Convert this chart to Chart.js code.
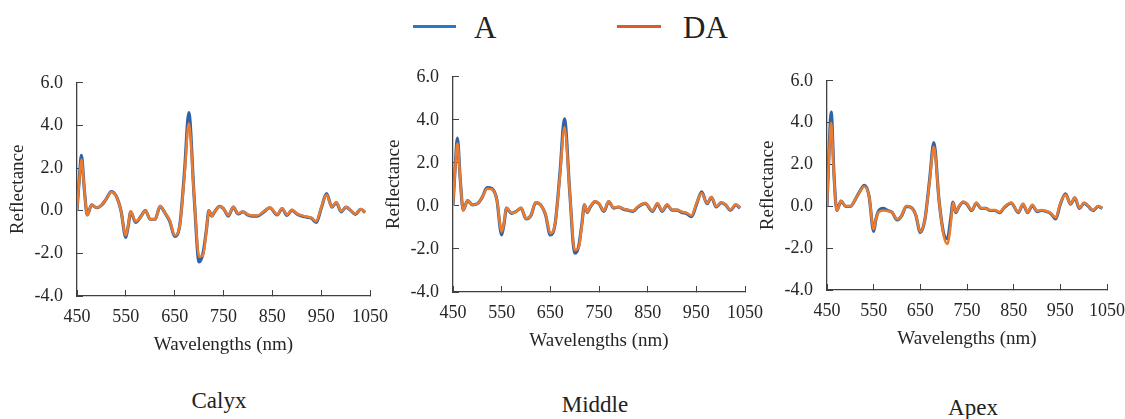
<!DOCTYPE html>
<html>
<head>
<meta charset="utf-8">
<script src="https://cdn.jsdelivr.net/npm/chart.js@4.4.0/dist/chart.umd.min.js"></script>
<style>
  body { margin: 0; width: 1125px; height: 419px; background: #fff; position: relative; overflow: hidden;
         font-family: "Liberation Serif", "Times New Roman", serif; color: #222; }
  canvas { position: absolute; }
  .lgline { position: absolute; height: 3px; }
  .lgtext { position: absolute; font-size: 31px; line-height: 31px; }
  .cap { position: absolute; font-size: 23px; line-height: 23px; transform: translateX(-50%); white-space: nowrap; }
</style>
</head>
<body>

<div class="lgline" style="left:413px; top:25px; width:43px; background:#2878C8;"></div>
<div class="lgtext" style="left:474px; top:12px;">A</div>
<div class="lgline" style="left:617px; top:25px; width:44px; background:#E4572A;"></div>
<div class="lgtext" style="left:683px; top:12px;">DA</div>

<canvas id="calyxChart" width="397" height="309" style="left:7px; top:52px;"></canvas>
<canvas id="middleChart" width="396" height="311" style="left:383px; top:46px;"></canvas>
<canvas id="apexChart" width="384" height="305" style="left:757px; top:50px;"></canvas>

<div class="cap" style="left:219px; top:389px;">Calyx</div>
<div class="cap" style="left:595px; top:393px;">Middle</div>
<div class="cap" style="left:973px; top:396px;">Apex</div>

<script>

// wavelengths (nm) shared by every curve
var wavelengths = [450, 455, 459, 465, 471, 480, 490, 500, 510, 520, 530, 540, 550, 555, 560, 570, 580, 590, 600, 610,
                   620, 630, 640, 650, 660, 670, 679, 690, 700, 708, 715, 720, 726, 732, 742, 750, 760, 770, 780, 790,
                   800, 810, 820, 830, 845, 860, 870, 880, 890, 900, 910, 920, 930, 940, 950, 961, 972, 981, 991, 1001,
                   1010, 1020, 1031, 1040];

var calyxA  = [0.0, 1.6, 2.6, 1.0, -0.2, 0.27, 0.14, 0.25, 0.55, 0.9, 0.7, 0.0, -1.25, -0.7, -0.05, -0.55, -0.3, 0.0, -0.4, -0.4,
               0.2, -0.1, -0.5, -1.2, -0.75, 1.8, 4.6, 0.6, -2.4, -2.0, -0.9, 0.0, -0.25, -0.05, 0.2, 0.1, -0.25, 0.17, -0.15, -0.05,
               -0.2, -0.25, -0.25, -0.1, 0.14, -0.2, 0.1, -0.22, 0.03, -0.15, -0.25, -0.3, -0.35, -0.55, 0.1, 0.8, 0.17, 0.38, -0.05, 0.17,
               0.02, -0.17, 0.07, -0.08];
var calyxDA = [0.0, 1.5, 2.4, 1.0, -0.2, 0.27, 0.14, 0.25, 0.55, 0.88, 0.7, 0.0, -1.15, -0.65, -0.03, -0.5, -0.3, 0.0, -0.4, -0.4,
               0.22, -0.1, -0.45, -1.15, -0.75, 1.6, 4.1, 0.6, -2.15, -2.1, -0.95, 0.02, -0.25, -0.05, 0.2, 0.1, -0.22, 0.18, -0.12, -0.05,
               -0.18, -0.22, -0.22, -0.08, 0.15, -0.18, 0.12, -0.2, 0.05, -0.13, -0.22, -0.28, -0.32, -0.5, 0.15, 0.75, 0.18, 0.4, -0.03, 0.18,
               0.03, -0.15, 0.08, -0.07];

var middleA  = [0.0, 2.0, 3.15, 1.2, -0.2, 0.25, 0.05, 0.1, 0.4, 0.85, 0.8, 0.3, -1.35, -0.8, -0.1, -0.35, -0.25, -0.1, -0.6, -0.45,
                0.15, 0.05, -0.4, -1.35, -0.8, 1.6, 4.05, 0.6, -2.2, -1.9, -0.8, 0.05, -0.3, -0.05, 0.2, 0.1, -0.25, 0.2, -0.1, -0.05,
                -0.15, -0.2, -0.25, -0.05, 0.12, -0.25, 0.1, -0.25, 0.05, -0.2, -0.2, -0.3, -0.35, -0.5, 0.05, 0.65, 0.1, 0.4, -0.05, 0.15,
                0.05, -0.2, 0.05, -0.1];
var middleDA = [0.0, 1.9, 2.9, 1.2, -0.2, 0.25, 0.05, 0.1, 0.4, 0.8, 0.78, 0.3, -1.2, -0.75, -0.08, -0.33, -0.25, -0.08, -0.58, -0.45,
                0.17, 0.05, -0.38, -1.28, -0.8, 1.45, 3.65, 0.6, -2.05, -1.95, -0.85, 0.07, -0.28, -0.03, 0.22, 0.12, -0.22, 0.22, -0.08, -0.05,
                -0.13, -0.18, -0.22, -0.03, 0.14, -0.22, 0.12, -0.22, 0.07, -0.18, -0.18, -0.27, -0.32, -0.45, 0.1, 0.6, 0.12, 0.42, -0.03, 0.17,
                0.06, -0.18, 0.07, -0.08];

var apexA  = [0.0, 3.0, 4.5, 1.5, -0.2, 0.25, 0.0, 0.0, 0.3, 0.7, 1.0, 0.5, -1.2, -0.6, -0.25, -0.1, -0.2, -0.3, -0.65, -0.45,
              0.0, -0.05, -0.4, -1.25, -0.6, 1.3, 3.05, 0.3, -1.3, -1.55, -0.6, 0.2, -0.3, -0.05, 0.2, 0.1, -0.2, 0.15, -0.1, -0.1,
              -0.2, -0.2, -0.3, -0.05, 0.15, -0.3, 0.1, -0.3, 0.05, -0.25, -0.2, -0.25, -0.35, -0.6, 0.1, 0.6, 0.1, 0.4, -0.1, 0.15,
              0.0, -0.2, 0.0, -0.1];
var apexDA = [0.0, 2.7, 4.0, 1.4, -0.2, 0.25, 0.0, 0.0, 0.3, 0.68, 0.95, 0.5, -1.1, -0.6, -0.3, -0.2, -0.22, -0.3, -0.62, -0.45,
              0.02, -0.05, -0.38, -1.22, -0.6, 1.2, 2.85, 0.3, -1.4, -1.8, -0.9, 0.18, -0.28, -0.03, 0.22, 0.12, -0.18, 0.17, -0.08, -0.1,
              -0.18, -0.18, -0.28, -0.03, 0.17, -0.28, 0.12, -0.28, 0.07, -0.22, -0.18, -0.23, -0.33, -0.55, 0.15, 0.55, 0.12, 0.42, -0.08, 0.17,
              0.02, -0.18, 0.02, -0.08];

var xTickValues = [450, 550, 650, 750, 850, 950, 1050];
var yTickValues = [-4, -2, 0, 2, 4, 6];

var textColor = '#262626';
var axisColor = '#404040';
var fontFamily = "'Liberation Serif', 'Times New Roman', serif";

Chart.defaults.font.family = fontFamily;
Chart.defaults.font.size = 18;
Chart.defaults.color = textColor;

function toPoints(values) {
  var pts = [];
  for (var i = 0; i < wavelengths.length; i++) {
    pts.push({ x: wavelengths[i], y: values[i] });
  }
  return pts;
}

function makePanel(id, seriesA, seriesDA) {

  var ctx = document.getElementById(id).getContext('2d');

  return new Chart(ctx, {
    type: 'line',
    data: {
      datasets: [
        { label: 'A', data: toPoints(seriesA), borderColor: '#2F62A6', borderWidth: 3.2, order: 2 },
        { label: 'DA', data: toPoints(seriesDA), borderColor: '#EE7B2C', borderWidth: 2.5, order: 1 }
      ]
    },
    options: {
      responsive: false,
      animation: false,
      layout: { padding: { top: 15, right: 25, bottom: 5, left: 0 } },
      elements: {
        point: { radius: 0 },
        line: { cubicInterpolationMode: 'monotone', fill: false }
      },
      plugins: { legend: { display: false }, tooltip: { enabled: false } },
      scales: {
        x: {
          type: 'linear',
          min: 450,
          max: 1050,
          afterBuildTicks: function(s) { s.ticks = xTickValues.map(function(v) { return { value: v }; }); },
          afterFit: function(s) { s.height = 60; },
          grid: { drawOnChartArea: false, tickLength: -6, color: axisColor },
          border: { color: axisColor, width: 1.3 },
          ticks: { padding: 16, maxRotation: 0, autoSkip: false, color: textColor,
                   font: { family: fontFamily, size: 18, style: 'normal' },
                   callback: function(v) { return String(v); } },
          title: { display: true, text: 'Wavelengths (nm)', color: textColor, padding: { top: 0, bottom: 0 },
                   font: { family: fontFamily, size: 19 } }
        },
        y: {
          min: -4,
          max: 6,
          afterBuildTicks: function(s) { s.ticks = yTickValues.map(function(v) { return { value: v }; }); },
          afterFit: function(s) { s.width = 70; },
          grid: { drawOnChartArea: false, tickLength: -6, color: axisColor },
          border: { color: axisColor, width: 1.3 },
          ticks: { padding: 20, color: textColor, font: { family: fontFamily, size: 18, style: 'normal' },
                   callback: function(v) { return v.toFixed(1); } },
          title: { display: true, text: 'Reflectance', color: textColor, padding: { top: 0, bottom: 0 },
                   font: { family: fontFamily, size: 19 } }
        }
      }
    }
  });
}

makePanel('calyxChart', calyxA, calyxDA);
makePanel('middleChart', middleA, middleDA);
makePanel('apexChart', apexA, apexDA);

</script>
</body>
</html>
